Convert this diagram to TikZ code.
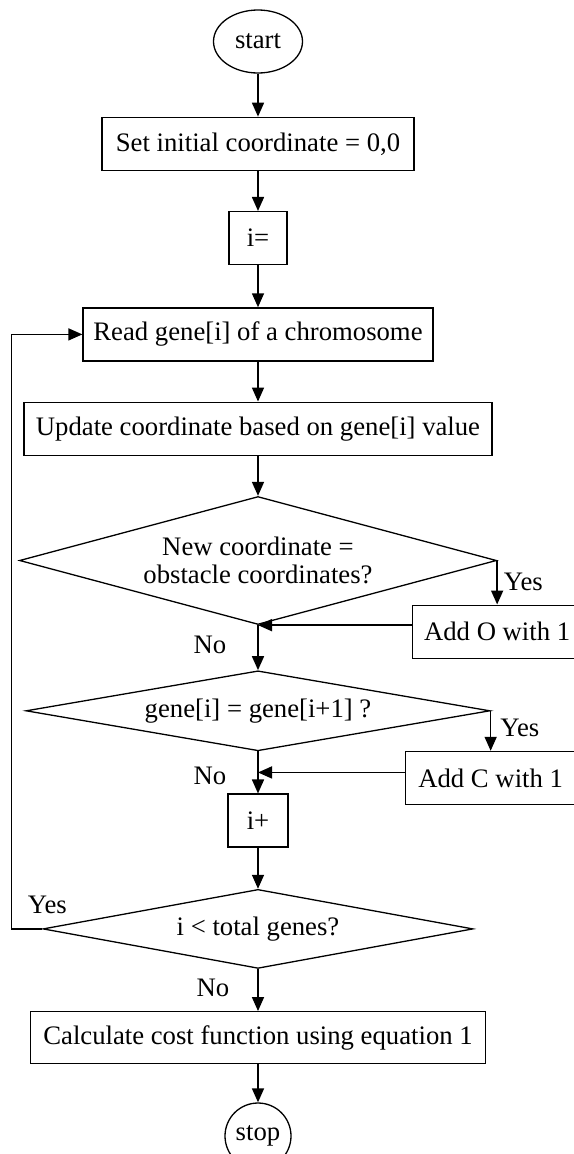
\documentclass[tikz,border=0pt]{standalone}
\usepackage{fontspec}
\setmainfont{Liberation Serif}
\usetikzlibrary{positioning, calc, shapes.geometric, arrows.meta}

\begin{document}
\begin{tikzpicture}[
	font=\fontsize{26.7}{28}\selectfont,
	line width=1.3pt,
	>={Triangle[length=14pt,width=12pt]},
	process/.style={rectangle, draw, minimum height=53pt, inner sep=0pt},
	decision/.style={diamond, draw, inner sep=0pt, align=center},
	flow/.style={->, line width=1.6pt},
	lbl/.style={inner sep=2pt}]
	\useasboundingbox (0,0) rectangle (573pt,-1154pt);
	% Define the nodes
	\node (start) [ellipse, draw, minimum width=89pt, minimum height=63pt, inner sep=0pt] at (258pt,-41.5pt) {start};
	\node (init) [process, below=43pt of start, minimum width=312pt] {Set initial coordinate = 0,0};
	\node (zero) [process, below=40pt of init, minimum width=58pt] {i=};
	\node (read) [process, below=42pt of zero, minimum width=350pt] {Read gene[i] of a chromosome};
	\node (update) [process, below=40pt of read, minimum width=468pt] {Update coordinate based on gene[i] value};
	\node (obstacle) [decision, below=40pt of update, minimum width=477pt, minimum height=128pt, aspect=3.7] {New coordinate =\\obstacle coordinates?};
	\node (addO) [process, below=44pt of obstacle.east, minimum width=170pt] {Add O with 1};
	\node (same) [decision, below=45pt of obstacle, minimum width=464pt, minimum height=80pt, aspect=5.8] {gene[i] = gene[i+1] ?};
	\node (addC) [process, below=40pt of same.east, minimum width=170pt] {Add C with 1};
	\node (next) [process, below=42pt of same, minimum width=60pt] {i+};
	\node (more) [decision, below=41pt of next, minimum width=430pt, minimum height=79pt, aspect=5.4] {i < total genes?};
	\node (cost) [process, below=42pt of more, minimum width=455pt, minimum height=52pt] {Calculate cost function using equation 1};
	\node (stop) [circle, draw, below=38pt of cost, minimum size=66pt, inner sep=0pt] {stop};
	\coordinate (joinC) at ($(same.south)!0.5!(next.north)$);
	% Connect the nodes
	\draw [flow] (start) -- (init);
	\draw [flow] (init) -- (zero);
	\draw [flow] (zero) -- (read);
	\draw [flow] (read) -- (update);
	\draw [flow] (update) -- (obstacle);
	\draw [flow] (obstacle.east) -- node [lbl, right=4pt, pos=0.48] {Yes} (addO);
	\draw [flow] (addO.west |- obstacle.south) -- (obstacle.south);
	\draw [flow] (obstacle) -- node [lbl, left=29pt, pos=0.44] {No} (same);
	\draw [flow] (same.east) -- node [lbl, right=7pt, pos=0.43] {Yes} (addC);
	\draw [flow] (addC.west |- joinC) -- (joinC);
	\draw [flow] (same) -- node [lbl, left=29pt, pos=0.57] {No} (next);
	\draw [flow] (next) -- (more);
	\draw [flow] (more.west) -- node [lbl, above=12pt, xshift=5pt, pos=0] {Yes} ++(-31pt,0) |- (read.west);
	\draw [flow] (more) -- node [lbl, left=26pt, pos=0.45] {No} (cost);
	\draw [flow] (cost) -- (stop);
\end{tikzpicture}
\end{document}
